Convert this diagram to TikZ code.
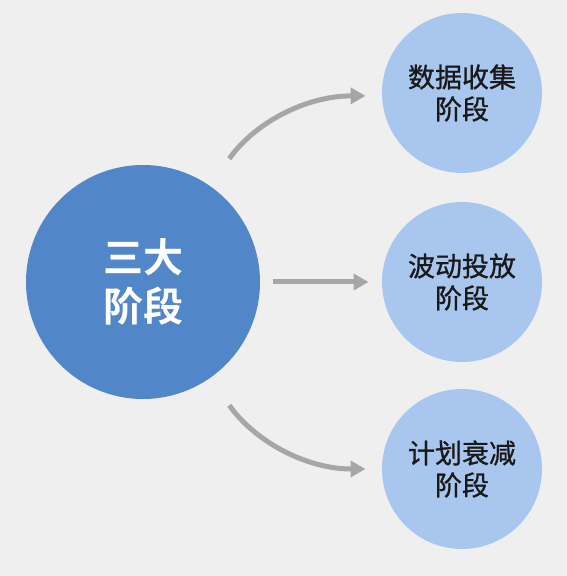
\documentclass[tikz,border=0pt]{standalone}
\usepackage{fontspec}
\newfontfamily\cjk[FakeBold=1]{Noto Sans CJK SC}
\newfontfamily\cjkb{Noto Sans CJK SC Bold}
\usetikzlibrary{arrows.meta}
\definecolor{fondo}{HTML}{EFEFEF}
\definecolor{azul}{HTML}{5187C8}
\definecolor{celeste}{HTML}{A9C7EE}
\definecolor{gris}{HTML}{A6A6A6}

\begin{document}
\begin{tikzpicture}[x=1pt,y=1pt,line width=5pt,>={Triangle[length=15pt,width=16pt]},
  etapa/.style={circle,fill=celeste,minimum size=160pt,inner sep=0pt,align=center,
    text=black!90,font=\cjk\fontsize{27}{32}\selectfont},
  flecha/.style={->,draw=gris,line width=5pt}]
  % fondo gris claro
  \fill[fondo] (0,0) rectangle (567,576);
  \useasboundingbox (0,0) rectangle (567,576);
  % circulo central
  \node[circle,fill=azul,minimum size=234pt,inner sep=0pt,align=center,text=white,
    font=\cjkb\fontsize{40}{49}\selectfont] (tres) at (143,294){三大\\阶段};
  % las tres etapas
  \foreach \n/\y/\t in {1/483/数据收集,2/294/波动投放,3/107/计划衰减}
    \node[etapa] (e\n) at (462,\y){\t\\阶段};
  % flechas
  \draw[flecha,shorten <=31pt,shorten >=14pt] (tres.55) to[out=55,in=180] (e1.182);
  \draw[flecha,shorten <=10pt,shorten >=11pt] (tres.east) -- (e2.west);
  \draw[flecha,shorten <=31pt,shorten >=14pt] (tres.-55) to[out=-55,in=180] (e3.west);
\end{tikzpicture}
\end{document}
